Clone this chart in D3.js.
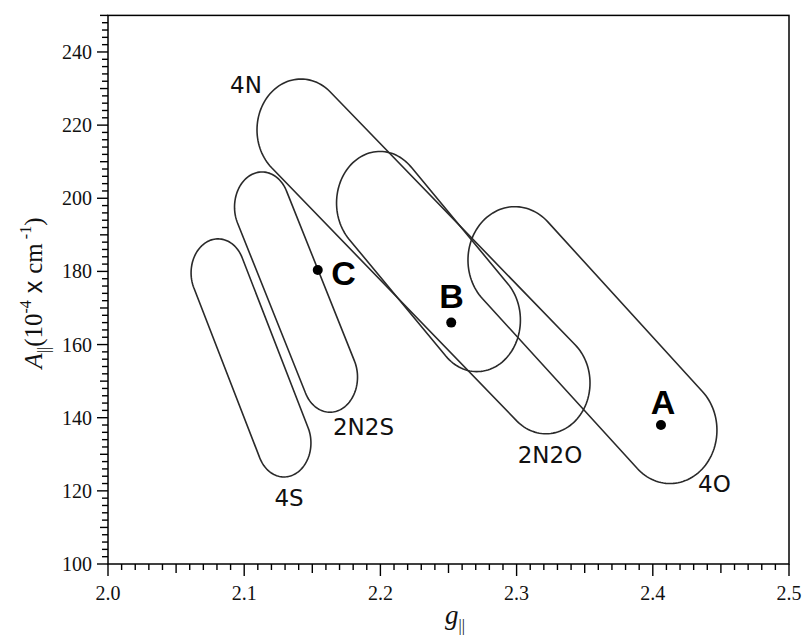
<!DOCTYPE html>
<html>
<head>
<meta charset="utf-8">
<script src="https://cdn.jsdelivr.net/npm/d3@7"></script>
<style>
  body { margin: 0; background: #fff; }
  svg { display: block; }
</style>
</head>
<body>
<div id="chart"></div>
<script>
// region capsules: centre of each end cap plus half-widths (data units)
const regions = ['4S', '2N2S', '4N', '2N2O', '4O']
const gStart = [2.0808, 2.1131, 2.1417, 2.1997, 2.2988]
const aStart = [179.6, 197.6, 218.7, 198.7, 183.1]
const gEnd = [2.1292, 2.163, 2.3216, 2.2709, 2.4126]
const aEnd = [133.1, 151.1, 149.5, 166.7, 136.6]
const gHalf = [0.0198, 0.0202, 0.0323, 0.0319, 0.0345]
const aHalf = [9.3, 9.6, 13.9, 14.1, 14.6]
// where the region names sit
const regLabelG = [2.1329, 2.1876, 2.1013, 2.3245, 2.4453]
const regLabelA = [115.9, 135.3, 228.8, 127.6, 119.7]

// measured samples
const samples = ['A', 'B', 'C']
const sampleG = [2.406, 2.252, 2.154]
const sampleA = [138, 166, 180.4]
const sampleLabelG = [2.4075, 2.2522, 2.1729]
const sampleLabelA = [141.0, 170.0, 176.3]

const xTicks = [2.0, 2.1, 2.2, 2.3, 2.4, 2.5]
const yTicks = [100, 120, 140, 160, 180, 200, 220, 240]

const W = 807, H = 635
const margin = { top: 15.4, left: 108, right: 18, bottom: 71 }

const svg = d3.select('#chart').append('svg')
  .attr('width', W)
  .attr('height', H)

const x = d3.scaleLinear().domain([2.0, 2.5]).range([margin.left, W - margin.right])
const y = d3.scaleLinear().domain([100, 250]).range([H - margin.bottom, margin.top])

// capsules with elliptical caps
function capsule(i) {
  const x1 = x(gStart[i]), y1 = y(aStart[i])
  const x2 = x(gEnd[i]), y2 = y(aEnd[i])
  const rx = x(gStart[i] + gHalf[i]) - x1
  const ry = y1 - y(aStart[i] + aHalf[i])
  const a = Math.atan2((y2 - y1) / ry, (x2 - x1) / rx)
  const pts = []
  const n = 60
  for (let k = 0; k <= n; k++) {
    const t = a - Math.PI / 2 + (Math.PI * k) / n
    pts.push([x2 + rx * Math.cos(t), y2 + ry * Math.sin(t)])
  }
  for (let k = 0; k <= n; k++) {
    const t = a + Math.PI / 2 + (Math.PI * k) / n
    pts.push([x1 + rx * Math.cos(t), y1 + ry * Math.sin(t)])
  }
  return d3.line().curve(d3.curveLinearClosed)(pts)
}

svg.append('g')
  .selectAll('path')
  .data(regions)
  .enter()
  .append('path')
  .attr('d', (d, i) => capsule(i))
  .attr('fill', 'none')
  .attr('stroke', '#2a2a2a')
  .attr('stroke-width', 1.6)

svg.append('g')
  .selectAll('text')
  .data(regions)
  .enter()
  .append('text')
  .attr('x', (d, i) => x(regLabelG[i]))
  .attr('y', (d, i) => y(regLabelA[i]))
  .attr('text-anchor', 'middle')
  .attr('font-family', 'DejaVu Sans')
  .attr('font-size', 23)
  .attr('fill', '#111')
  .text(d => d)

svg.append('g')
  .selectAll('circle')
  .data(samples)
  .enter()
  .append('circle')
  .attr('cx', (d, i) => x(sampleG[i]))
  .attr('cy', (d, i) => y(sampleA[i]))
  .attr('r', 5)
  .attr('fill', '#000')

svg.append('g')
  .selectAll('text')
  .data(samples)
  .enter()
  .append('text')
  .attr('x', (d, i) => x(sampleLabelG[i]))
  .attr('y', (d, i) => y(sampleLabelA[i]))
  .attr('text-anchor', 'middle')
  .attr('font-family', 'Liberation Sans, Arial, sans-serif')
  .attr('font-weight', 'bold')
  .attr('font-size', 34)
  .attr('fill', '#000')
  .text(d => d)

// frame
svg.append('rect')
  .attr('x', x(2.0))
  .attr('y', y(250))
  .attr('width', x(2.5) - x(2.0))
  .attr('height', y(100) - y(250))
  .attr('fill', 'none')
  .attr('stroke', '#000')
  .attr('stroke-width', 1.5)

// ticks
const xMinor = d3.range(0, 51).map(k => 2.0 + k * 0.01)
const yMinor = d3.range(0, 76).map(k => 100 + k * 2)

const xAxisG = svg.append('g').attr('stroke', '#000').attr('stroke-width', 1.4)
xAxisG.selectAll('line')
  .data(xMinor)
  .enter()
  .append('line')
  .attr('x1', d => x(d))
  .attr('x2', d => x(d))
  .attr('y1', y(100))
  .attr('y2', (d, k) => y(100) + (k % 10 === 0 ? 12 : k % 5 === 0 ? 9 : 6))

const yAxisG = svg.append('g').attr('stroke', '#000').attr('stroke-width', 1.4)
yAxisG.selectAll('line')
  .data(yMinor)
  .enter()
  .append('line')
  .attr('y1', d => y(d))
  .attr('y2', d => y(d))
  .attr('x1', x(2.0))
  .attr('x2', (d, k) => x(2.0) - (k % 10 === 0 ? 11 : k % 5 === 0 ? 8 : 6))

svg.append('g')
  .selectAll('text')
  .data(xTicks)
  .enter()
  .append('text')
  .attr('x', d => x(d))
  .attr('y', y(100) + 36)
  .attr('text-anchor', 'middle')
  .attr('font-family', 'Liberation Serif, Times New Roman, serif')
  .attr('font-size', 20)
  .attr('fill', '#111')
  .text(d => d.toFixed(1))

svg.append('g')
  .selectAll('text')
  .data(yTicks)
  .enter()
  .append('text')
  .attr('x', x(2.0) - 16)
  .attr('y', d => y(d))
  .attr('dy', '0.35em')
  .attr('text-anchor', 'end')
  .attr('font-family', 'Liberation Serif, Times New Roman, serif')
  .attr('font-size', 20)
  .attr('fill', '#111')
  .text(d => d)

// axis titles
const xt = svg.append('text')
  .attr('x', 455)
  .attr('y', 624)
  .attr('text-anchor', 'middle')
  .attr('font-family', 'Liberation Serif, Times New Roman, serif')
  .attr('fill', '#111')
xt.append('tspan').attr('font-style', 'italic').attr('font-size', 27).text('g')
xt.append('tspan').attr('font-size', 16).attr('dy', 7).text('||')

const yt = svg.append('text')
  .attr('transform', 'translate(42,' + 293 + ') rotate(-90)')
  .attr('text-anchor', 'middle')
  .attr('font-family', 'Liberation Serif, Times New Roman, serif')
  .attr('font-size', 25)
  .attr('fill', '#111')
yt.append('tspan').attr('font-style', 'italic').text('A')
yt.append('tspan').attr('font-size', 16).attr('dy', 7).text('||')
yt.append('tspan').attr('dy', -7).text('(10')
yt.append('tspan').attr('font-size', 16).attr('dy', -11).text('-4')
yt.append('tspan').attr('dy', 11).attr('font-family', 'Liberation Sans, Arial, sans-serif').text(' x ')
yt.append('tspan').text('cm')
yt.append('tspan').attr('font-size', 16).attr('dy', -11).text(' -1')
yt.append('tspan').attr('dy', 11).text(')')
</script>
</body>
</html>
